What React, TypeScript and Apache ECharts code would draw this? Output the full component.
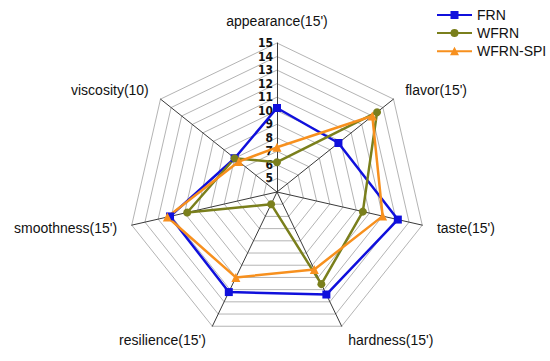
import React, { useEffect, useRef } from "react";
import * as echarts from "echarts";

// Indicators in the clockwise order seen in the picture, starting at the top
const categories = [
  "appearance(15')",
  "flavor(15')",
  "taste(15')",
  "hardness(15')",
  "resilience(15')",
  "smoothness(15')",
  "viscosity(10)",
];
const seriesNames = ["FRN", "WFRN", "WFRN-SPI"];
const frn = [10.2, 9.8, 13.15, 12.4, 12.2, 12.1, 8.0];
const wfrn = [6.2, 13.45, 10.5, 11.55, 5.0, 10.8, 8.0];
const wfrnSpi = [7.3, 13.0, 12.0, 10.35, 11.0, 12.3, 7.6];
const axisMin = 4;
const axisMax = 15;

const colors = ["#1010dc", "#7a7f1c", "#f7901e"];
const symbols = ["rect", "circle", "triangle"];
const symbolSizes = [8, 8, 9];

// legend icons: a line with the series marker in its middle
const legendIcons = [
  "path://M0 3.5H13.5V0.5H21.5V3.5H35V5.5H21.5V8.5H13.5V5.5H0Z",
  "path://M0 3.5H35V5.5H0Z M21.5 4.5A4 4 0 1 1 13.5 4.5A4 4 0 1 1 21.5 4.5Z",
  "path://M0 3.5H15.65L17.5 0L19.35 3.5H35V5.5H20.41L22 8.5H13L14.59 5.5H0Z",
];

// ECharts places radar indicators counter-clockwise, so reverse after the first
const order = [0, 6, 5, 4, 3, 2, 1];
const reorder = (arr: number[]) => order.map((i) => arr[i]);

const FONT = "'Liberation Sans', Arial, sans-serif";

export default function App() {
  const ref = useRef<HTMLDivElement>(null);
  useEffect(() => {
    if (!ref.current) return;
    const chart = echarts.init(ref.current, null, { renderer: "svg" });
    const values = [frn, wfrn, wfrnSpi];
    chart.setOption({
      animation: false,
      backgroundColor: "#ffffff",
      textStyle: { fontFamily: FONT },
      legend: {
        orient: "vertical",
        left: 432,
        top: 3,
        itemWidth: 35,
        itemHeight: 9,
        itemGap: 4,
        textStyle: { fontSize: 14, color: "#111", fontFamily: FONT },
        data: seriesNames.map((name, s) => ({ name, icon: legendIcons[s] })),
      },
      radar: {
        center: [277, 192],
        radius: 149,
        startAngle: 90,
        splitNumber: axisMax - axisMin,
        shape: "polygon",
        nameGap: 15,
        axisName: { color: "#111", fontSize: 14, fontFamily: FONT },
        axisLine: { lineStyle: { color: "#3a3a3a", width: 1 } },
        splitLine: { lineStyle: { color: "#b4b4b4", width: 1 } },
        splitArea: { show: false },
        axisTick: { show: false },
        axisLabel: { show: false },
        indicator: order.map((i, k) => {
          const ind: any = { name: categories[i], min: axisMin, max: axisMax };
          if (k === 0) {
            ind.axisLabel = {
              show: true,
              showMinLabel: false,
              color: "#111",
              fontSize: 12,
              fontWeight: "bold",
              fontFamily: "'Liberation Sans Narrow', 'DejaVu Sans Condensed', Arial, sans-serif",
              margin: 4,
            };
          }
          return ind;
        }),
      },
      series: [
        {
          type: "radar",
          data: seriesNames.map((name, s) => ({
            name,
            value: reorder(values[s]),
            symbol: symbols[s],
            symbolSize: symbolSizes[s],
            lineStyle: { color: colors[s], width: 2.5 },
            itemStyle: { color: colors[s], borderWidth: 0 },
          })),
        },
      ],
    });
    return () => chart.dispose();
  }, []);
  return (
    <div
      ref={ref}
      style={{ position: "fixed", left: 0, top: 0, width: 550, height: 361 }}
    />
  );
}
